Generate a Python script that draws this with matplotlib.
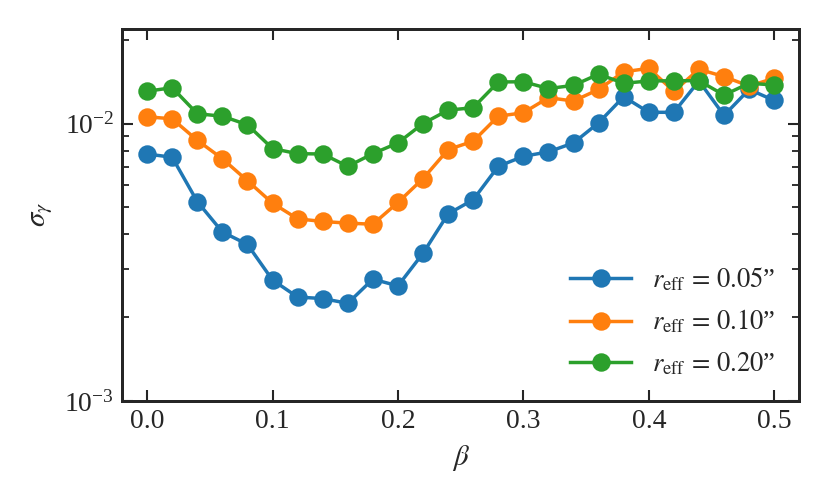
import matplotlib
matplotlib.use("Agg")
import matplotlib.pyplot as plt
import numpy as np

beta = [0.00, 0.02, 0.04, 0.06, 0.08, 0.10, 0.12, 0.14, 0.16, 0.18, 0.20, 0.22, 0.24,
        0.26, 0.28, 0.30, 0.32, 0.34, 0.36, 0.38, 0.40, 0.42, 0.44, 0.46, 0.48, 0.50]

sigma_005 = [0.00778, 0.00757, 0.00524, 0.00407, 0.00367, 0.00273, 0.00237, 0.00234,
             0.00225, 0.00275, 0.00260, 0.00341, 0.00473, 0.00532, 0.00702, 0.00763,
             0.00792, 0.00853, 0.01008, 0.01252, 0.01100, 0.01100, 0.01427, 0.01072,
             0.01330, 0.01214]
sigma_010 = [0.01060, 0.01042, 0.00872, 0.00748, 0.00623, 0.00517, 0.00454, 0.00444,
             0.00438, 0.00434, 0.00520, 0.00634, 0.00807, 0.00865, 0.01065, 0.01096,
             0.01242, 0.01208, 0.01330, 0.01540, 0.01585, 0.01310, 0.01573, 0.01480,
             0.01368, 0.01460]
sigma_020 = [0.01310, 0.01350, 0.01087, 0.01065, 0.00992, 0.00814, 0.00780, 0.00778,
             0.00702, 0.00780, 0.00853, 0.01002, 0.01120, 0.01143, 0.01415, 0.01418,
             0.01340, 0.01376, 0.01510, 0.01400, 0.01427, 0.01430, 0.01430, 0.01270,
             0.01400, 0.01380]

labels = ['$r_{\\rm eff}\\,=\\,0.05$”', '$r_{\\rm eff}\\,=\\,0.10$”', '$r_{\\rm eff}\\,=\\,0.20$”']
colors = ['#1f77b4', '#ff7f0e', '#2ca02c']

plt.rcParams['font.family'] = ['Liberation Serif', 'DejaVu Serif']
plt.rcParams['mathtext.fontset'] = 'stix'

dark = '#262626'
fig = plt.figure(figsize=(5, 3), dpi=166)
ax = fig.add_axes([0.147, 0.195, 0.816, 0.747])

for ys, lab, c in zip([sigma_005, sigma_010, sigma_020], labels, colors):
    ax.plot(beta, ys, '-o', color=c, lw=1.5, ms=7, label=lab)

ax.set_yscale('log')
ax.set_ylim(1e-3, 2.2e-2)
ax.set_xlim(-0.02, 0.52)
ax.set_xticks([0.0, 0.1, 0.2, 0.3, 0.4, 0.5])
ax.set_xticklabels(['0.0', '0.1', '0.2', '0.3', '0.4', '0.5'])

ax.tick_params(which='both', direction='in', top=True, right=True, colors=dark,
               labelsize=12)
ax.tick_params(which='major', length=4.6, width=0.9)
ax.tick_params(which='minor', length=2.9, width=0.8)
ax.tick_params(axis='x', which='minor', bottom=False, top=False)
for s in ax.spines.values():
    s.set_linewidth(1.3)
    s.set_color(dark)

ax.set_xlabel(r'$\beta$', fontsize=12.5, color=dark)
ax.set_ylabel(r'$\sigma_\gamma$', fontsize=12.5, color=dark)

leg = ax.legend(loc='lower right', frameon=False, fontsize=11.5, handlelength=2.3,
                borderaxespad=0.5, labelspacing=0.55)
for t in leg.get_texts():
    t.set_color(dark)

fig.savefig('out.png', dpi=166)
